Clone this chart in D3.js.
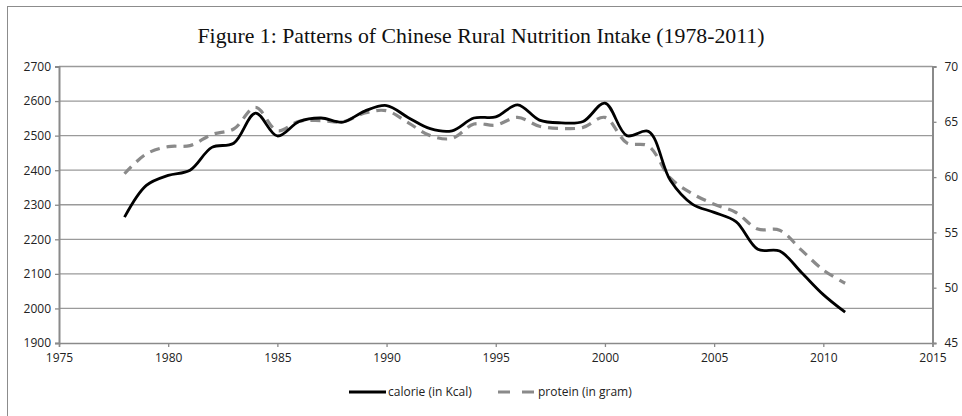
<!DOCTYPE html>
<html>
<head>
<meta charset="utf-8">
<script src="https://cdn.jsdelivr.net/npm/d3@7"></script>
<style>
  body { margin: 0; background: #fff; }
  svg { display: block; }
</style>
</head>
<body>
<svg id="chart" width="962" height="416"></svg>
<script>
const years = [1978,1979,1980,1981,1982,1983,1984,1985,1986,1987,1988,1989,1990,1991,1992,1993,1994,1995,1996,1997,1998,1999,2000,2001,2002,2003,2004,2005,2006,2007,2008,2009,2010,2011];
const calorie = [2264,2356,2385,2400,2466,2478,2565,2499,2541,2551,2539,2571,2587,2552,2520,2514,2551,2554,2589,2545,2537,2541,2594,2500,2512,2370,2302,2278,2251,2171,2166,2104,2040,1989];
const protein = [60.3,62.1,62.75,62.85,63.85,64.35,66.3,64.2,65.05,65.1,65.0,65.8,66.0,64.9,63.75,63.5,64.8,64.7,65.4,64.6,64.4,64.5,65.4,63.1,62.8,59.9,58.5,57.55,56.8,55.3,55.2,53.4,51.6,50.4];
const xTicks = [1975,1980,1985,1990,1995,2000,2005,2010,2015];
const yLeftTicks = [1900,2000,2100,2200,2300,2400,2500,2600,2700];
const yRightTicks = [45,50,55,60,65,70];
const titleText = "Figure 1: Patterns of Chinese Rural Nutrition Intake (1978-2011)";
const seriesNames = ["calorie (in Kcal)", "protein (in gram)"];

const svg = d3.select("#chart");
const m = {left: 59, right: 932.5, top: 66.5, bottom: 343};

// outer frame
svg.append("rect").attr("x", 7.5).attr("y", 6.5).attr("width", 1000).attr("height", 500)
  .attr("fill", "none").attr("stroke", "#8c8c8c").attr("stroke-width", 1);

const x = d3.scaleLinear().domain([1975, 2015]).range([m.left, m.right]);
const yL = d3.scaleLinear().domain([1900, 2700]).range([m.bottom, m.top]);
const yR = d3.scaleLinear().domain([45, 70]).range([m.bottom, m.top]);

// gridlines
svg.append("g").selectAll("line").data(yLeftTicks.slice(1)).join("line")
  .attr("x1", m.left).attr("x2", m.right)
  .attr("y1", d => yL(d)).attr("y2", d => yL(d))
  .attr("stroke", "#9a9a9a").attr("stroke-width", 1.3);

const font = "'Open Sans', 'Liberation Sans', sans-serif";

const gL = svg.append("g").attr("transform", `translate(${m.left},0)`)
  .call(d3.axisLeft(yL).tickValues(yLeftTicks).tickFormat(d3.format("d")).tickSize(4).tickPadding(4));
const gR = svg.append("g").attr("transform", `translate(${m.right},0)`)
  .call(d3.axisRight(yR).tickValues(yRightTicks).tickFormat(d3.format("d")).tickSize(4).tickPadding(8));
const gB = svg.append("g").attr("transform", `translate(0,${m.bottom})`)
  .call(d3.axisBottom(x).tickValues(xTicks).tickFormat(d3.format("d")).tickSize(4).tickPadding(6));

[gL, gR, gB].forEach(g => {
  g.select(".domain").attr("stroke", "#8a8a8a").attr("stroke-width", 2);
  g.selectAll(".tick line").attr("stroke", "#8a8a8a").attr("stroke-width", 1.3);
  g.selectAll(".tick text").attr("fill", "#222").style("font-family", font).style("font-size", "12px");
});
gB.select(".domain").attr("stroke-width", 1.5);

const lineCal = d3.line().x((d, i) => x(years[i])).y(d => yL(d)).curve(d3.curveCatmullRom.alpha(0.5));
const linePro = d3.line().x((d, i) => x(years[i])).y(d => yR(d)).curve(d3.curveCatmullRom.alpha(0.5));

svg.append("path").datum(protein).attr("d", linePro)
  .attr("fill", "none").attr("stroke", "#8a8a8a").attr("stroke-width", 3.2)
  .attr("stroke-dasharray", "10,7");
svg.append("path").datum(calorie).attr("d", lineCal)
  .attr("fill", "none").attr("stroke", "#000").attr("stroke-width", 2.8)
  .attr("stroke-linejoin", "round");

svg.append("text").attr("x", 481).attr("y", 43).attr("text-anchor", "middle")
  .style("font-family", "'Liberation Serif', 'Times New Roman', serif").style("font-size", "21.8px")
  .attr("fill", "#111").text(titleText);

const ly = 392;
const leg = svg.append("g");
leg.append("line").attr("x1", 349).attr("x2", 386).attr("y1", ly).attr("y2", ly)
  .attr("stroke", "#000").attr("stroke-width", 3);
leg.append("text").attr("x", 388).attr("y", ly + 4).style("font-family", font).style("font-size", "12px")
  .attr("fill", "#222").text(seriesNames[0]);
leg.append("line").attr("x1", 498).attr("x2", 535).attr("y1", ly).attr("y2", ly)
  .attr("stroke", "#8a8a8a").attr("stroke-width", 3.2).attr("stroke-dasharray", "12,12");
leg.append("text").attr("x", 538).attr("y", ly + 4).style("font-family", font).style("font-size", "12px")
  .attr("fill", "#222").text(seriesNames[1]);
</script>
</body>
</html>
